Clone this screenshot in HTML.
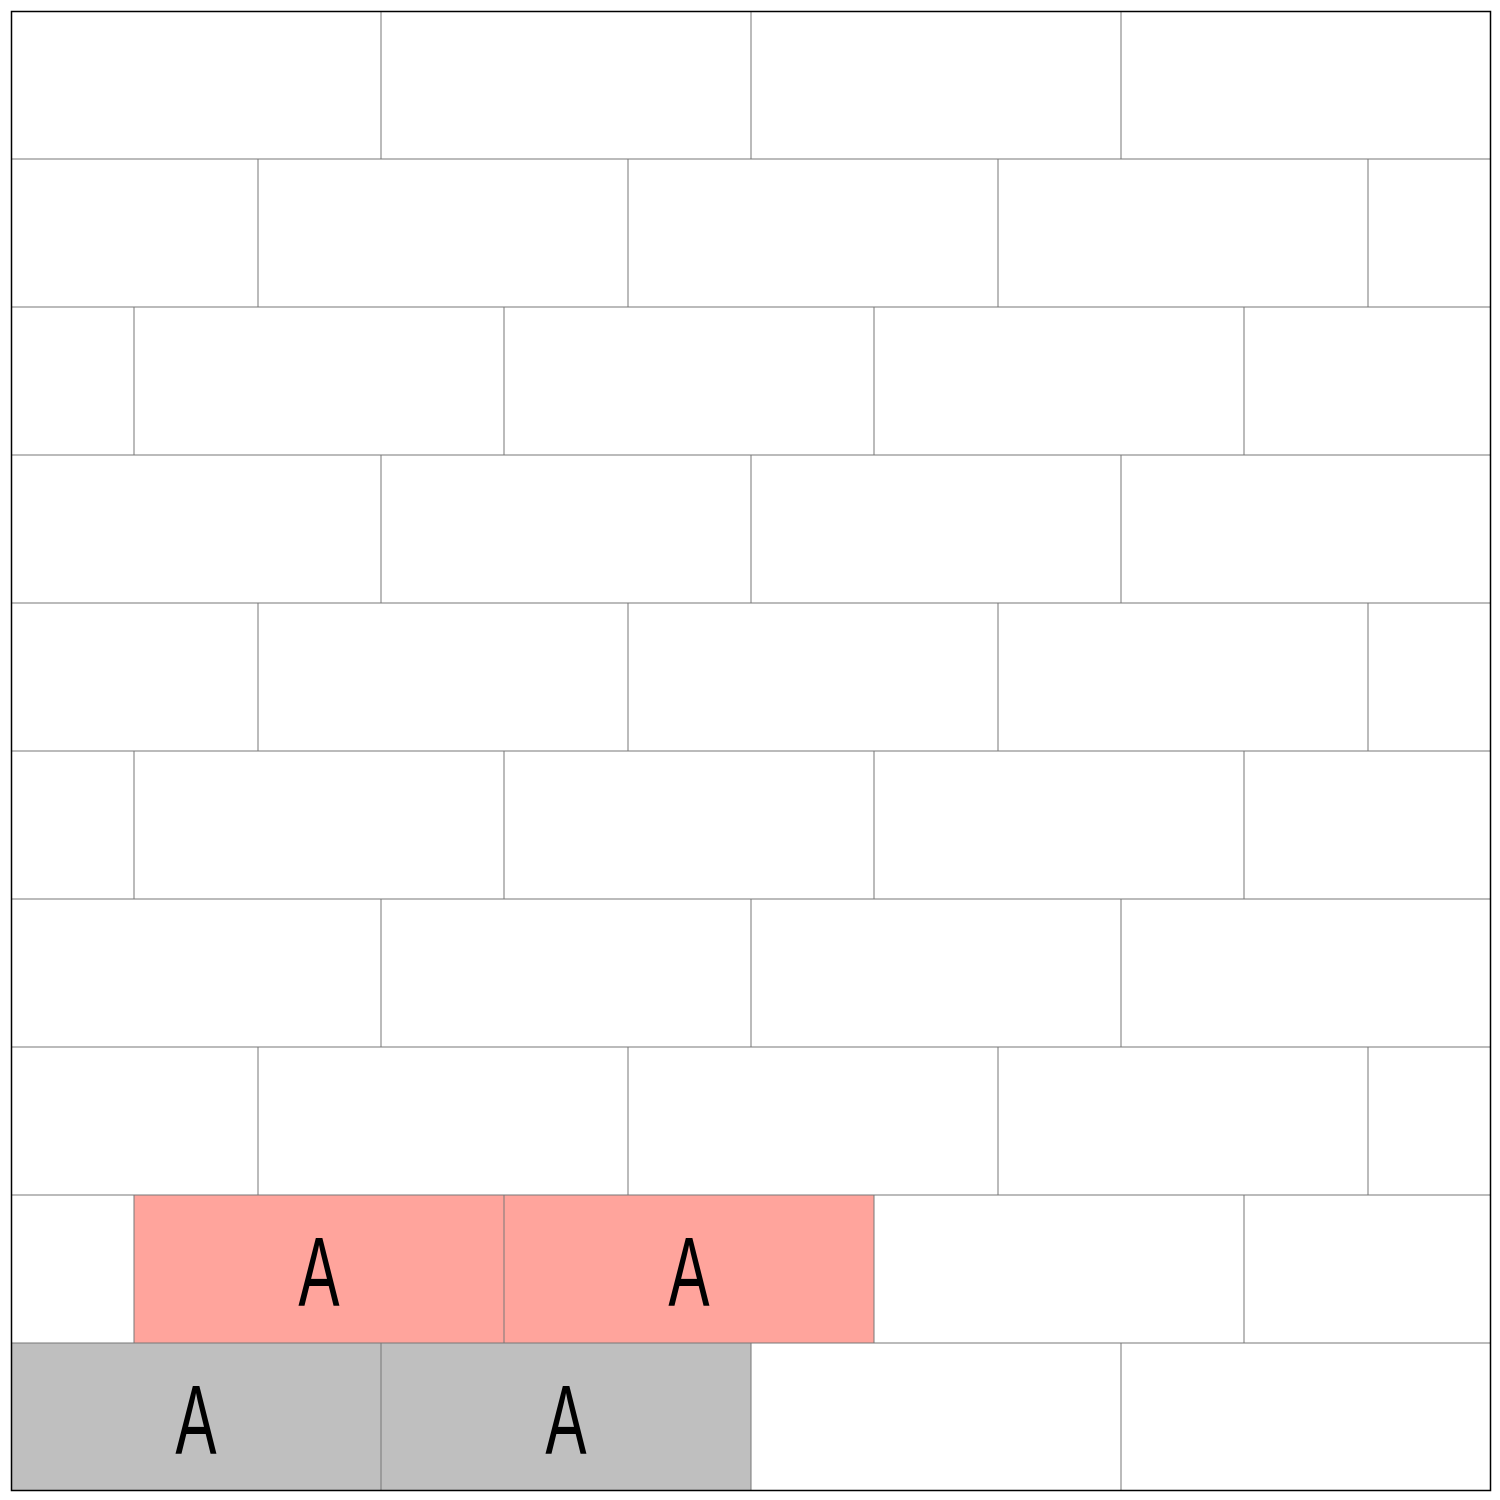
<!DOCTYPE html>
<html><head><meta charset="utf-8"><style>html,body{margin:0;padding:0;background:#fff}svg{display:block}</style></head>
<body>
<svg width="1500" height="1500" viewBox="0 0 1500 1500" xmlns="http://www.w3.org/2000/svg">
<defs><clipPath id="c"><rect x="11" y="11" width="1480" height="1480"/></clipPath></defs>
<rect x="0" y="0" width="1500" height="1500" fill="#fff"/>
<g clip-path="url(#c)" stroke="#777" stroke-width="1" fill="#fff">
<g id="rA">
<rect x="11" y="11" width="370" height="148"/><rect x="381" y="11" width="370" height="148"/><rect x="751" y="11" width="370" height="148"/><rect x="1121" y="11" width="370" height="148"/>
</g>
<g id="rB">
<rect x="-112" y="159" width="370" height="148"/><rect x="258" y="159" width="370" height="148"/><rect x="628" y="159" width="370" height="148"/><rect x="998" y="159" width="370" height="148"/><rect x="1368" y="159" width="370" height="148"/>
</g>
<g id="rC">
<rect x="-236" y="307" width="370" height="148"/><rect x="134" y="307" width="370" height="148"/><rect x="504" y="307" width="370" height="148"/><rect x="874" y="307" width="370" height="148"/><rect x="1244" y="307" width="370" height="148"/>
</g>
<use href="#rA" y="444"/><use href="#rB" y="444"/><use href="#rC" y="444"/>
<use href="#rA" y="888"/><use href="#rB" y="888"/>
<rect x="-236" y="1195" width="370" height="148"/><rect x="134" y="1195" width="370" height="148" fill="#FFA49C"/><rect x="504" y="1195" width="370" height="148" fill="#FFA49C"/><rect x="874" y="1195" width="370" height="148"/><rect x="1244" y="1195" width="370" height="148"/>
<rect x="11" y="1343" width="370" height="148" fill="#BFBFBF"/><rect x="381" y="1343" width="370" height="148" fill="#BFBFBF"/><rect x="751" y="1343" width="370" height="148"/><rect x="1121" y="1343" width="370" height="148"/>
</g>
<rect x="11.5" y="11.5" width="1479" height="1479" fill="none" stroke="#000" stroke-width="1.5"/>
<g font-family="Liberation Sans, DejaVu Sans, sans-serif" font-size="98" text-anchor="middle" fill="#000">
<text transform="translate(319,1306) scale(0.63,1)">A</text>
<text transform="translate(689,1306) scale(0.63,1)">A</text>
<text transform="translate(196,1454) scale(0.63,1)">A</text>
<text transform="translate(566,1454) scale(0.63,1)">A</text>
</g>
</svg>
</body></html>
